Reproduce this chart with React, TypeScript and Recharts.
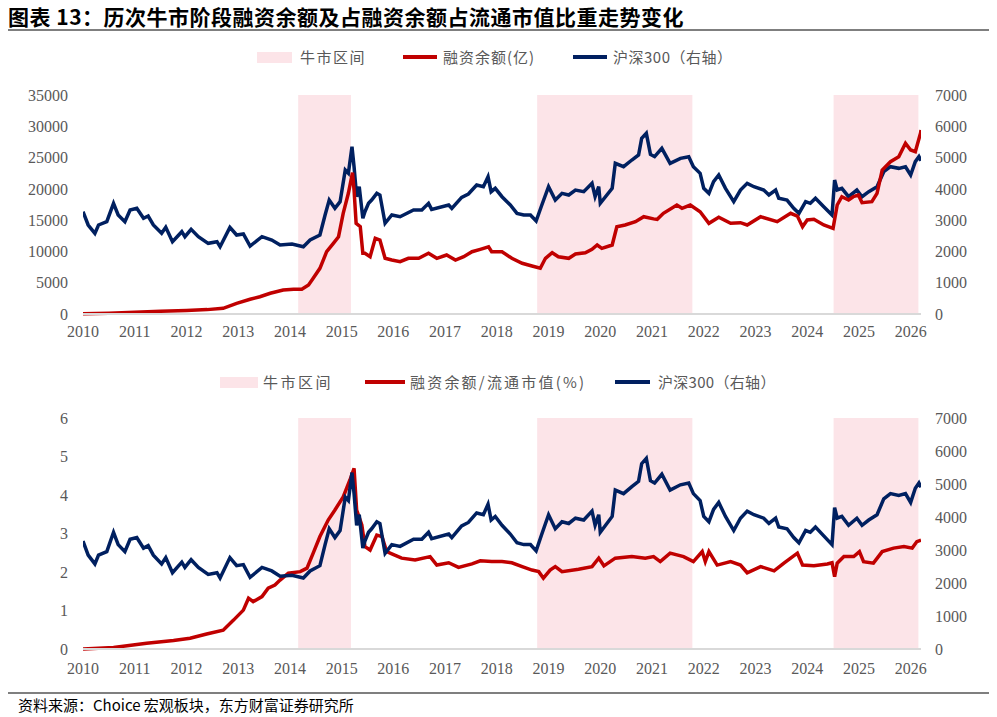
import React from "react";
import { ComposedChart, Line, XAxis, YAxis, ReferenceArea } from "recharts";

// x positions are in "picture years": the 2010 tick sits at the left edge of the plot
const yearTicks = [2010, 2011, 2012, 2013, 2014, 2015, 2016, 2017, 2018, 2019, 2020, 2021, 2022, 2023, 2024, 2025, 2026];
const bullStart = [2014.16, 2018.78, 2024.51];
const bullEnd = [2015.18, 2021.78, 2026.15];

const marginTicks = [0, 5000, 10000, 15000, 20000, 25000, 30000, 35000];
const ratioTicks = [0, 1, 2, 3, 4, 5, 6];
const csiTicks = [0, 1000, 2000, 3000, 4000, 5000, 6000, 7000];

// 沪深300
const csiYears = [
  2010.0, 2010.1, 2010.23, 2010.3, 2010.46, 2010.59, 2010.68, 2010.81, 2010.91, 2011.04, 2011.17, 2011.26,
  2011.36, 2011.52, 2011.6, 2011.73, 2011.91, 2011.97, 2012.09, 2012.23, 2012.42, 2012.59, 2012.65, 2012.84,
  2012.97, 2013.1, 2013.23, 2013.46, 2013.65, 2013.81, 2014.04, 2014.26, 2014.39, 2014.58, 2014.68, 2014.76,
  2014.87, 2014.97, 2015.07, 2015.13, 2015.2, 2015.24, 2015.29, 2015.34, 2015.41, 2015.45, 2015.52, 2015.58,
  2015.68, 2015.74, 2015.84, 2015.97, 2016.13, 2016.39, 2016.55, 2016.68, 2016.74, 2017.07, 2017.13, 2017.32,
  2017.45, 2017.61, 2017.74, 2017.83, 2017.89, 2017.97, 2018.1, 2018.26, 2018.39, 2018.52, 2018.65, 2018.76,
  2018.87, 2019.0, 2019.13, 2019.26, 2019.39, 2019.52, 2019.68, 2019.84, 2019.9, 2019.97, 2020.0, 2020.23,
  2020.29, 2020.45, 2020.61, 2020.74, 2020.8, 2020.89, 2020.97, 2021.05, 2021.19, 2021.35, 2021.55, 2021.71,
  2021.8, 2021.93, 2022.0, 2022.1, 2022.19, 2022.29, 2022.42, 2022.58, 2022.71, 2022.84, 2022.97, 2023.16,
  2023.26, 2023.39, 2023.45, 2023.61, 2023.74, 2023.84, 2023.97, 2024.06, 2024.16, 2024.32, 2024.48, 2024.53,
  2024.58, 2024.67, 2024.8, 2024.96, 2025.06, 2025.19, 2025.35, 2025.48, 2025.61, 2025.77, 2025.9, 2026.0,
  2026.09, 2026.16, 2026.2,
];
const csiValues = [
  3270, 2845, 2578, 2845, 2950, 3537, 3164, 2950, 3324, 3377, 3058, 3132,
  2845, 2578, 2770, 2312, 2631, 2471, 2706, 2471, 2259, 2312, 2151, 2770,
  2525, 2557, 2173, 2471, 2365, 2205, 2237, 2151, 2365, 2525, 3164, 3643,
  3377, 3590, 4602, 4500, 5347, 4708, 3749, 4069, 3058, 3270, 3537, 3643,
  3857, 3803, 2899, 3164, 3110, 3324, 3324, 3537, 3345, 3484, 3377, 3729,
  3835, 4123, 4069, 4388, 3909, 4017, 3749, 3484, 3218, 3164, 3164, 2972,
  3484, 4069, 3643, 3857, 3803, 3963, 3909, 4177, 3749, 4069, 3537, 4017,
  4816, 4708, 4922, 5082, 5615, 5775, 5100, 5029, 5295, 4816, 4976, 5029,
  4708, 4496, 4017, 3857, 4229, 4442, 4017, 3590, 3963, 4177, 4069, 3963,
  3803, 3963, 3697, 3643, 3377, 3218, 3590, 3537, 3697, 3429, 3164, 4282,
  3963, 4017, 3749, 3963, 3749, 3909, 4069, 4548, 4708, 4656, 4708, 4442,
  4869, 5029, 4900,
];

// 融资余额(亿)
const marginYears = [
  2010.0, 2010.5, 2011.0, 2011.5, 2012.0, 2012.4, 2012.71, 2012.97, 2013.23, 2013.42, 2013.62, 2013.87,
  2014.07, 2014.23, 2014.36, 2014.45, 2014.58, 2014.71, 2014.84, 2014.94, 2015.03, 2015.13, 2015.21, 2015.24,
  2015.28, 2015.36, 2015.41, 2015.45, 2015.55, 2015.65, 2015.74, 2015.84, 2015.97, 2016.13, 2016.29, 2016.49,
  2016.68, 2016.84, 2017.03, 2017.2, 2017.36, 2017.52, 2017.68, 2017.84, 2017.9, 2018.1, 2018.29, 2018.49,
  2018.68, 2018.84, 2018.94, 2019.07, 2019.19, 2019.39, 2019.52, 2019.71, 2019.84, 2019.94, 2020.03, 2020.23,
  2020.32, 2020.48, 2020.68, 2020.84, 2021.03, 2021.1, 2021.22, 2021.48, 2021.58, 2021.74, 2021.93, 2022.1,
  2022.29, 2022.52, 2022.71, 2022.84, 2023.1, 2023.42, 2023.68, 2023.81, 2023.91, 2024.0, 2024.13, 2024.32,
  2024.5, 2024.58, 2024.67, 2024.8, 2024.89, 2024.99, 2025.06, 2025.25, 2025.35, 2025.45, 2025.61, 2025.77,
  2025.9, 2026.0, 2026.09, 2026.19, 2026.2,
];
const marginValues = [
  20, 120, 280, 420, 550, 700, 911, 1710, 2349, 2765, 3308, 3835,
  3947, 3947, 4634, 5705, 7303, 9955, 11298, 12353, 16092, 19288, 22580, 19815,
  14494, 13951, 9700, 9700, 9157, 12097, 11825, 8900, 8629, 8358, 8900, 8900,
  9700, 8900, 9428, 8629, 9157, 9955, 10339, 10754, 9955, 9955, 8900, 8102,
  7670, 7303, 8900, 9796, 9157, 8900, 9588, 9796, 10339, 11026, 10498, 11026,
  13951, 14222, 14749, 15549, 15200, 15133, 16092, 17418, 16891, 17418, 16348, 14494,
  15453, 14494, 14590, 14222, 15549, 14749, 16092, 15660, 13951, 15021, 15133, 14222,
  13695, 17418, 18745, 18217, 18745, 19016, 17786, 17946, 19288, 23011, 24337, 25137,
  27277, 26207, 25936, 28876, 29400,
];

// 融资余额/流通市值(%)
const ratioYears = [
  2010.0, 2010.59, 2011.23, 2011.75, 2012.07, 2012.39, 2012.71, 2012.91, 2013.1, 2013.2, 2013.29, 2013.46,
  2013.58, 2013.71, 2013.81, 2013.97, 2014.2, 2014.33, 2014.45, 2014.58, 2014.74, 2014.87, 2015.03, 2015.16,
  2015.24, 2015.29, 2015.39, 2015.45, 2015.55, 2015.68, 2015.78, 2015.87, 2015.97, 2016.16, 2016.42, 2016.71,
  2016.84, 2017.07, 2017.26, 2017.52, 2017.68, 2017.9, 2018.1, 2018.29, 2018.49, 2018.68, 2018.81, 2018.9,
  2019.03, 2019.13, 2019.26, 2019.58, 2019.84, 2019.97, 2020.07, 2020.29, 2020.61, 2020.87, 2021.03, 2021.16,
  2021.35, 2021.61, 2021.8, 2021.97, 2022.03, 2022.1, 2022.26, 2022.52, 2022.71, 2022.84, 2023.1, 2023.36,
  2023.55, 2023.81, 2023.91, 2024.13, 2024.39, 2024.48, 2024.53, 2024.58, 2024.71, 2024.9, 2025.01, 2025.09,
  2025.28, 2025.45, 2025.67, 2025.87, 2026.03, 2026.12, 2026.2,
];
const ratioValues = [
  0.0, 0.04, 0.15, 0.22, 0.28, 0.39, 0.49, 0.75, 1.01, 1.32, 1.23, 1.36,
  1.58, 1.66, 1.79, 1.97, 2.01, 2.1, 2.49, 2.92, 3.35, 3.61, 3.95, 4.39,
  4.69, 3.61, 3.22, 2.66, 2.57, 2.96, 2.92, 2.53, 2.47, 2.36, 2.31, 2.4,
  2.18, 2.24, 2.12, 2.21, 2.29, 2.27, 2.27, 2.24, 2.14, 2.05, 2.01, 1.84,
  2.05, 2.14, 2.01, 2.07, 2.14, 2.36, 2.16, 2.36, 2.4, 2.36, 2.4, 2.27,
  2.49, 2.4, 2.27, 2.53, 2.27, 2.53, 2.18, 2.27, 2.18, 1.98, 2.14, 2.03,
  2.23, 2.49, 2.18, 2.16, 2.21, 2.24, 1.88, 2.23, 2.4, 2.4, 2.53, 2.27,
  2.23, 2.53, 2.62, 2.66, 2.62, 2.79, 2.83,
];

const RED = "#c00000";
const NAVY = "#002060";
const PINK = "#fce4e8";
const GRAY_TEXT = "#595959";

const zip = (xs: number[], ys: number[]) => xs.map((x, i) => ({ x, v: ys[i] }));
const csiData = zip(csiYears, csiValues);
const marginData = zip(marginYears, marginValues);
const ratioData = zip(ratioYears, ratioValues);

const tickStyle = { fontSize: 16, fill: GRAY_TEXT, fontFamily: "Liberation Serif" };
const legendText: React.CSSProperties = {
  position: "absolute",
  fontSize: 15,
  color: GRAY_TEXT,
  fontFamily: "Noto Sans CJK SC",
  lineHeight: "20px",
  whiteSpace: "nowrap",
};

function bullAreas() {
  return bullStart.map((s, i) => (
    <ReferenceArea key={i} x1={s} x2={bullEnd[i]} yAxisId="left" fill={PINK} fillOpacity={1} stroke="none" />
  ));
}

function Swatch({ left, top, w, h, color }: { left: number; top: number; w: number; h: number; color: string }) {
  return <div style={{ position: "absolute", left, top, width: w, height: h, background: color }} />;
}

export default function App() {
  return (
    <div style={{ position: "absolute", left: 0, top: 0, width: 997, height: 717, background: "#fff", fontFamily: "Noto Sans CJK SC" }}>
      <div style={{ position: "absolute", left: 8, top: 3, fontSize: 21, fontWeight: 700, color: "#000", lineHeight: "26px", whiteSpace: "nowrap", letterSpacing: 0.5 }}>
        图表 13：历次牛市阶段融资余额及占融资余额占流通市值比重走势变化
      </div>
      <div style={{ position: "absolute", left: 8, top: 29, width: 981, height: 2, background: "#7f7f7f" }} />

      {/* top legend */}
      <Swatch left={257} top={52} w={35} h={11} color={PINK} />
      <span style={{ ...legendText, left: 300, top: 47, letterSpacing: 1.5 }}>牛市区间</span>
      <Swatch left={403} top={55} w={34} h={4} color={RED} />
      <span style={{ ...legendText, left: 443, top: 47, letterSpacing: 1 }}>融资余额(亿)</span>
      <Swatch left={573} top={55} w={34} h={4} color={NAVY} />
      <span style={{ ...legendText, left: 613, top: 47, letterSpacing: 0.5 }}>沪深300（右轴）</span>

      <div style={{ position: "absolute", left: 0, top: 0 }}>
        <ComposedChart width={997} height={350} margin={{ top: 95, right: 0, bottom: 0, left: 0 }}>
          <XAxis
            dataKey="x"
            type="number"
            domain={[2010, 2026.2]}
            ticks={yearTicks}
            allowDataOverflow
            height={36}
            tickLine={false}
            tickMargin={6}
            axisLine={{ stroke: "#d9d9d9", strokeWidth: 2 }}
            tick={tickStyle}
          />
          <YAxis yAxisId="left" domain={[0, 35000]} ticks={marginTicks} width={83} axisLine={false} tickLine={false} tickMargin={9} tick={tickStyle} />
          <YAxis yAxisId="right" orientation="right" domain={[0, 7000]} ticks={csiTicks} width={76} axisLine={false} tickLine={false} tickMargin={8} tick={{ ...tickStyle, textAnchor: "start" }} />
          {bullAreas()}
          <Line yAxisId="right" data={csiData} dataKey="v" type="linear" stroke={NAVY} strokeWidth={3.5} dot={false} isAnimationActive={false} />
          <Line yAxisId="left" data={marginData} dataKey="v" type="linear" stroke={RED} strokeWidth={3.5} dot={false} isAnimationActive={false} />
        </ComposedChart>
      </div>

      {/* bottom legend */}
      <Swatch left={220} top={377} w={38} h={11} color={PINK} />
      <span style={{ ...legendText, left: 263, top: 372, letterSpacing: 2.5 }}>牛市区间</span>
      <Swatch left={365} top={380} w={40} h={4} color={RED} />
      <span style={{ ...legendText, left: 410, top: 372, letterSpacing: 2.2 }}>融资余额/流通市值(%)</span>
      <Swatch left={615} top={380} w={35} h={4} color={NAVY} />
      <span style={{ ...legendText, left: 658, top: 372, letterSpacing: 0.3 }}>沪深300（右轴）</span>

      <div style={{ position: "absolute", left: 0, top: 340 }}>
        <ComposedChart width={997} height={350} margin={{ top: 78, right: 0, bottom: 0, left: 0 }}>
          <XAxis
            dataKey="x"
            type="number"
            domain={[2010, 2026.2]}
            ticks={yearTicks}
            allowDataOverflow
            height={41}
            tickLine={false}
            tickMargin={8}
            axisLine={{ stroke: "#d9d9d9", strokeWidth: 2 }}
            tick={tickStyle}
          />
          <YAxis yAxisId="left" domain={[0, 6]} ticks={ratioTicks} width={83} axisLine={false} tickLine={false} tickMargin={9} tick={tickStyle} />
          <YAxis yAxisId="right" orientation="right" domain={[0, 7000]} ticks={csiTicks} width={76} axisLine={false} tickLine={false} tickMargin={8} tick={{ ...tickStyle, textAnchor: "start" }} />
          {bullAreas()}
          <Line yAxisId="left" data={ratioData} dataKey="v" type="linear" stroke={RED} strokeWidth={3.5} dot={false} isAnimationActive={false} />
          <Line yAxisId="right" data={csiData} dataKey="v" type="linear" stroke={NAVY} strokeWidth={3.5} dot={false} isAnimationActive={false} />
        </ComposedChart>
      </div>

      <div style={{ position: "absolute", left: 8, top: 692, width: 981, height: 2, background: "#7f7f7f" }} />
      <div style={{ position: "absolute", left: 18, top: 695, fontSize: 15, color: "#000", lineHeight: "20px", whiteSpace: "nowrap" }}>
        资料来源：Choice 宏观板块，东方财富证券研究所
      </div>
    </div>
  );
}
